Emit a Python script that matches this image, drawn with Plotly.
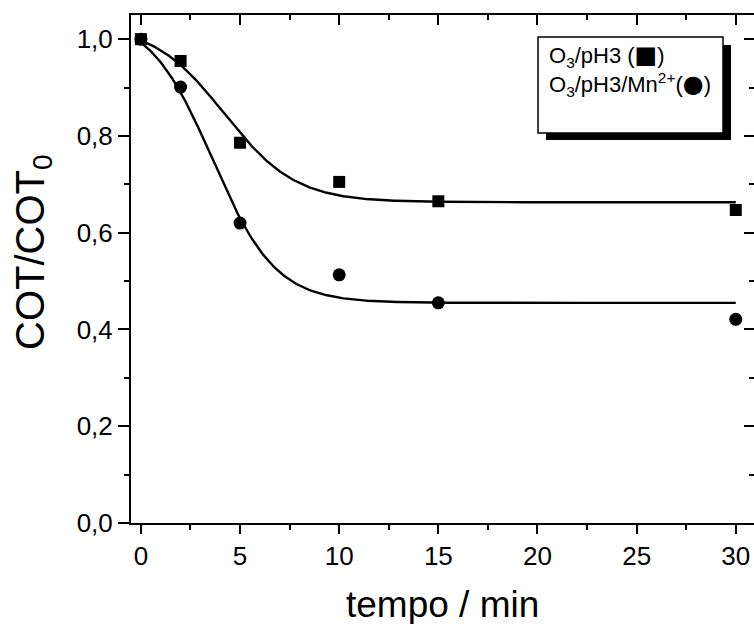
import numpy as np
import plotly.graph_objects as go

# Measured data: normalised TOC vs ozonation time
tempo = [0, 2, 5, 10, 15, 30]
cot_o3 = [1.0, 0.955, 0.786, 0.705, 0.665, 0.647]          # O3 / pH 3
cot_o3_mn = [1.0, 0.901, 0.620, 0.513, 0.455, 0.421]       # O3 / pH 3 / Mn2+

# Boltzmann fit parameters (A1, A2, x0, dx) for each series
fit_o3 = (1.03, 0.663, 4.2, 1.8)
fit_o3_mn = (1.05, 0.455, 3.6, 1.6)

x_ticks = [0, 5, 10, 15, 20, 25, 30]
x_tick_labels = ["0", "5", "10", "15", "20", "25", "30"]
y_ticks = [0.0, 0.2, 0.4, 0.6, 0.8, 1.0]
y_tick_labels = ["0,0", "0,2", "0,4", "0,6", "0,8", "1,0"]


def boltzmann(x, a1, a2, x0, dx):
    return a2 + (a1 - a2) / (1.0 + np.exp((x - x0) / dx))


xf = np.linspace(0, 30, 400)

FONT = "Liberation Sans, Arial, sans-serif"
W, H = 754, 624
ML, MR, MT, MB = 131, 0, 15, 101
PW, PH = W - ML - MR, H - MT - MB


def px(xp):
    return (xp - ML) / PW


def py(yp):
    return (H - MB - yp) / PH


fig = go.Figure()
fig.add_trace(go.Scatter(x=xf, y=boltzmann(xf, *fit_o3), mode="lines",
                         line=dict(color="black", width=2.4), showlegend=False))
fig.add_trace(go.Scatter(x=xf, y=boltzmann(xf, *fit_o3_mn), mode="lines",
                         line=dict(color="black", width=2.4), showlegend=False))
fig.add_trace(go.Scatter(x=tempo, y=cot_o3, mode="markers",
                         marker=dict(symbol="square", size=12, color="black"),
                         showlegend=False))
fig.add_trace(go.Scatter(x=tempo, y=cot_o3_mn, mode="markers",
                         marker=dict(symbol="circle", size=13, color="black"),
                         showlegend=False))
# invisible trace to anchor the mirror axes (top / right)
fig.add_trace(go.Scatter(x=[None], y=[None], xaxis="x2", yaxis="y2",
                         showlegend=False, hoverinfo="skip"))

xr = [-0.5, 30.92]
yr = [0, 1.05]

fig.update_layout(
    width=W, height=H,
    margin=dict(l=ML, r=MR, t=MT, b=MB),
    paper_bgcolor="white", plot_bgcolor="white",
    font=dict(family=FONT, color="black"),
    xaxis=dict(range=xr, tickmode="array", tickvals=x_ticks, ticktext=x_tick_labels,
               ticks="outside", ticklen=9, tickwidth=2, tickcolor="black",
               showline=True, linewidth=2, linecolor="black", showgrid=False,
               zeroline=False, tickfont=dict(size=26, family=FONT),
               minor=dict(dtick=2.5, tick0=0, ticks="outside", ticklen=5,
                          tickwidth=2, tickcolor="black", showgrid=False)),
    yaxis=dict(range=yr, tickmode="array", tickvals=y_ticks, ticktext=y_tick_labels,
               ticks="outside", ticklen=11, tickwidth=2, tickcolor="black",
               showline=True, linewidth=2, linecolor="black", showgrid=False,
               zeroline=False, tickfont=dict(size=26, family=FONT),
               minor=dict(dtick=0.1, tick0=0, ticks="outside", ticklen=5,
                          tickwidth=2, tickcolor="black", showgrid=False)),
    xaxis2=dict(range=xr, overlaying="x", side="top", anchor="y",
                tickmode="array", tickvals=x_ticks, showticklabels=False,
                ticks="inside", ticklen=10, tickwidth=2, tickcolor="black",
                showline=True, linewidth=2, linecolor="black", showgrid=False,
                zeroline=False,
                minor=dict(dtick=2.5, tick0=0, ticks="inside", ticklen=5,
                           tickwidth=2, tickcolor="black", showgrid=False)),
    yaxis2=dict(range=yr, overlaying="y", side="right", anchor="x",
                tickmode="array", tickvals=y_ticks, showticklabels=False,
                ticks="inside", ticklen=10, tickwidth=2, tickcolor="black",
                showline=False, showgrid=False, zeroline=False,
                minor=dict(dtick=0.1, tick0=0, ticks="inside", ticklen=5,
                           tickwidth=2, tickcolor="black", showgrid=False)),
)

# axis titles
fig.add_annotation(text="tempo / min", xref="paper", yref="paper",
                   x=px(442), y=py(604), xanchor="center", yanchor="middle",
                   showarrow=False, font=dict(size=37, family=FONT))
fig.add_annotation(text="COT/COT<sub>0</sub>", xref="paper", yref="paper",
                   x=px(33), y=py(252), xanchor="center", yanchor="middle",
                   textangle=-90, showarrow=False, font=dict(size=40, family=FONT))

# legend box with drop shadow
fig.add_shape(type="rect", xref="paper", yref="paper",
              x0=px(546), x1=px(731), y0=py(140), y1=py(45),
              fillcolor="black", line=dict(width=0))
fig.add_shape(type="rect", xref="paper", yref="paper",
              x0=px(538), x1=px(723), y0=py(133), y1=py(37),
              fillcolor="white", line=dict(color="black", width=1.5))
SYM = '<span style="font-family:DejaVu Sans;font-size:24px">{}</span>'
fig.add_annotation(text="O<sub>3</sub>/pH3 (" + SYM.format("\u25a0") + ")",
                   xref="paper", yref="paper",
                   x=px(547), y=py(56), xanchor="left", yanchor="middle",
                   showarrow=False, font=dict(size=22, family=FONT))
fig.add_annotation(text="O<sub>3</sub>/pH3/Mn<sup>2+</sup>(" + SYM.format("\u25cf") + ")",
                   xref="paper", yref="paper", x=px(547), y=py(85), xanchor="left",
                   yanchor="middle", showarrow=False, font=dict(size=22, family=FONT))

fig.write_html("out.html")
